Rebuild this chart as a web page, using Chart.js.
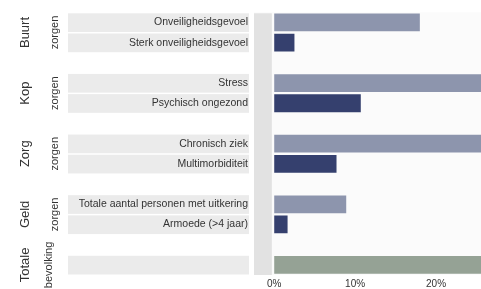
<!DOCTYPE html>
<html>
<head>
<meta charset="utf-8">
<script src="https://cdn.jsdelivr.net/npm/chart.js@4/dist/chart.umd.min.js"></script>
<style>
html,body{margin:0;padding:0;background:#fff;}
#wrap{width:481px;height:289px;position:relative;}
</style>
</head>
<body>
<div id="wrap"><canvas id="c" width="481" height="289"></canvas></div>
<script>
// Row labels (empty strings are spacer rows between groups)
const categories = [
  'Onveiligheidsgevoel', 'Sterk onveiligheidsgevoel', '',
  'Stress', 'Psychisch ongezond', '',
  'Chronisch ziek', 'Multimorbiditeit', '',
  'Totale aantal personen met uitkering', 'Armoede (>4 jaar)', '',
  ''
];
// Percentages per row (null = spacer)
const values = [18, 2.5, null, 28, 10.7, null, 30, 7.7, null, 8.9, 1.65, null, 100];
// Row kind: 0 = first indicator, 1 = second indicator, 2 = total population
const rowKind = [0, 1, null, 0, 1, null, 0, 1, null, 0, 1, null, 2];
// Rows that carry a grey label band
const bandRows = [0, 1, 3, 4, 6, 7, 9, 10, 12];
// Group titles (two lines, rotated), with the rows they span
const groupTop = ['Buurt', 'Kop', 'Zorg', 'Geld', 'Totale'];
const groupBottom = ['zorgen', 'zorgen', 'zorgen', 'zorgen', 'bevolking'];
const groupRows = [[0, 1], [3, 4], [6, 7], [9, 10], [12, 12]];
// x-axis ticks
const xTicks = [0, 10, 20];

const kindColors = ['#8d95ad', '#35406e', '#95a295'];
const FONT = '"Liberation Sans Narrow", "Liberation Sans", "DejaVu Sans Condensed", sans-serif';

const decor = {
  id: 'decor',
  beforeDatasetsDraw(chart) {
    const ctx = chart.ctx, y = chart.scales.y, x = chart.scales.x, a = chart.chartArea;
    ctx.save();
    // plot background
    ctx.fillStyle = '#fbfbfb';
    ctx.fillRect(a.left, a.top, a.right - a.left, a.bottom - a.top);
    // band left of zero
    const x0 = x.getPixelForValue(x.min), x1 = x.getPixelForValue(-0.3);
    ctx.fillStyle = '#e2e2e2';
    ctx.fillRect(x0, a.top + 1, x1 - x0, a.bottom - a.top - 1);
    ctx.restore();
  },
  beforeDraw(chart) {
    const ctx = chart.ctx, y = chart.scales.y;
    ctx.save();
    const step = Math.abs(y.getPixelForValue(1) - y.getPixelForValue(0));
    ctx.fillStyle = '#ebebeb';
    bandRows.forEach(r => {
      const cy = y.getPixelForValue(r);
      ctx.fillRect(68, cy - step / 2 + 1, 181, step - 1.5);
    });
    ctx.restore();
  },
  afterDraw(chart) {
    const ctx = chart.ctx, y = chart.scales.y;
    ctx.save();
    ctx.fillStyle = '#333';
    ctx.textAlign = 'center';
    ctx.textBaseline = 'middle';
    groupTop.forEach((t, i) => {
      const r = groupRows[i];
      const cy = (y.getPixelForValue(r[0]) + y.getPixelForValue(r[1])) / 2;
      ctx.save();
      ctx.translate(25, cy);
      ctx.rotate(-Math.PI / 2);
      ctx.font = '13px ' + FONT;
      ctx.fillText(t, 0, 0);
      ctx.restore();
      ctx.save();
      ctx.translate(i === 4 ? 49 : 55, cy);
      ctx.rotate(-Math.PI / 2);
      ctx.font = '11px ' + FONT;
      ctx.fillText(groupBottom[i], 0, 0);
      ctx.restore();
    });
    ctx.restore();
  }
};

new Chart(document.getElementById('c'), {
  type: 'bar',
  data: {
    labels: categories,
    datasets: [{
      data: values,
      backgroundColor: rowKind.map(k => k === null ? 'transparent' : kindColors[k]),
      barPercentage: 0.88,
      categoryPercentage: 1.0,
      borderWidth: 0
    }]
  },
  options: {
    indexAxis: 'y',
    responsive: false,
    animation: false,
    devicePixelRatio: 1,
    layout: { padding: { top: 8, right: 0, left: 0, bottom: 0 } },
    plugins: { legend: { display: false }, tooltip: { enabled: false } },
    scales: {
      x: {
        type: 'linear',
        min: -2.5,
        max: 25.56,
        grid: { display: false, drawTicks: false },
        border: { display: false },
        afterBuildTicks(s) { s.ticks = xTicks.map(v => ({ value: v })); },
        afterFit(s) { s.height = 14; },
        ticks: {
          padding: 3,
          color: '#333',
          font: { family: FONT, size: 10 },
          callback: v => v + '%',
          maxRotation: 0,
          autoSkip: false
        }
      },
      y: {
        type: 'category',
        grid: { display: false, drawTicks: false },
        border: { display: false },
        afterFit(s) { s.width = 254; },
        ticks: {
          padding: 6,
          color: '#333',
          font: { family: FONT, size: 10.5 },
          autoSkip: false
        }
      }
    }
  },
  plugins: [decor]
});
</script>
</body>
</html>
